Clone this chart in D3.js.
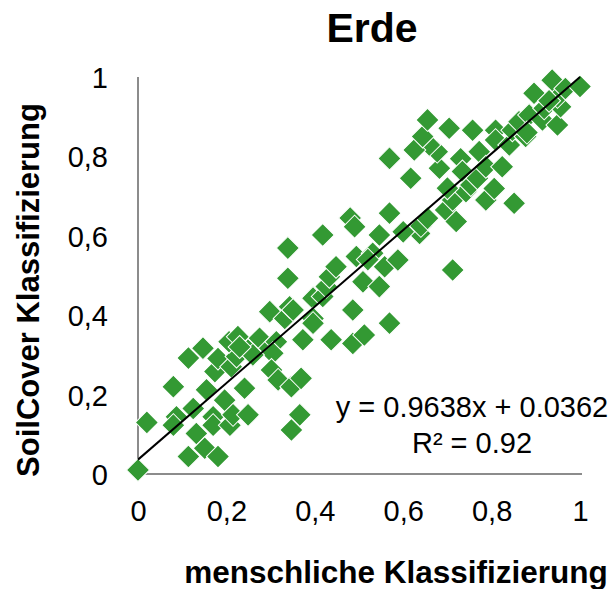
<!DOCTYPE html>
<html>
<head>
<meta charset="utf-8">
<script src="https://cdn.jsdelivr.net/npm/d3@7"></script>
<style>
    body { margin: 0; background: #fff; }
    svg text { font-family: "Liberation Sans", Arial, sans-serif; fill: #000; }
</style>
</head>
<body>
<div id="chart"></div>
<script>
// menschliche Klassifizierung (x) vs. SoilCover Klassifizierung (y)
var humanValues = [
    0.00, 0.02, 0.08, 0.087, 0.08, 0.114, 0.147, 0.125, 0.132, 0.114, 0.151, 0.181, 0.155, 0.170,
    0.170, 0.196, 0.208, 0.215, 0.249, 0.241, 0.174, 0.181, 0.211, 0.223, 0.206, 0.226, 0.249,
    0.275, 0.298, 0.313, 0.305, 0.302, 0.317, 0.347, 0.369, 0.366, 0.347, 0.298, 0.332, 0.343,
    0.339, 0.339, 0.351, 0.396, 0.418, 0.426, 0.433, 0.448, 0.396, 0.396, 0.373, 0.437, 0.486,
    0.512, 0.486, 0.569, 0.418, 0.480, 0.490, 0.494, 0.531, 0.558, 0.588, 0.509, 0.546, 0.546,
    0.569, 0.617, 0.569, 0.637, 0.640, 0.655, 0.696, 0.712, 0.720, 0.712, 0.682, 0.677, 0.659,
    0.625, 0.644, 0.655, 0.704, 0.730, 0.734, 0.742, 0.753, 0.768, 0.772, 0.787, 0.824, 0.787,
    0.806, 0.851, 0.757, 0.809, 0.809, 0.840, 0.847, 0.862, 0.877, 0.885, 0.915, 0.919, 0.949,
    0.956, 0.949, 0.896, 0.937, 0.967, 1.000, 0.260, 0.230, 0.520, 0.600, 0.700, 0.880, 0.930
];
var soilCoverValues = [
    0.01, 0.13, 0.22, 0.144, 0.123, 0.292, 0.317, 0.165, 0.102, 0.044, 0.065, 0.044, 0.212, 0.144,
    0.123, 0.186, 0.123, 0.149, 0.149, 0.216, 0.258, 0.291, 0.270, 0.296, 0.333, 0.346, 0.312,
    0.342, 0.317, 0.333, 0.304, 0.262, 0.237, 0.220, 0.241, 0.149, 0.111, 0.409, 0.392, 0.421,
    0.493, 0.569, 0.413, 0.443, 0.447, 0.472, 0.497, 0.522, 0.392, 0.380, 0.338, 0.338, 0.329,
    0.350, 0.413, 0.380, 0.602, 0.645, 0.623, 0.548, 0.556, 0.522, 0.539, 0.484, 0.472, 0.602,
    0.657, 0.745, 0.795, 0.606, 0.625, 0.644, 0.665, 0.690, 0.636, 0.514, 0.770, 0.812, 0.829,
    0.816, 0.850, 0.892, 0.871, 0.794, 0.762, 0.711, 0.728, 0.745, 0.812, 0.774, 0.774, 0.690,
    0.719, 0.682, 0.866, 0.866, 0.841, 0.829, 0.866, 0.887, 0.850, 0.904, 0.892, 0.921, 0.879,
    0.925, 0.950, 0.959, 0.992, 0.971, 0.976, 0.300, 0.320, 0.540, 0.610, 0.720, 0.860, 0.940
];
var xTicks = [0, 0.2, 0.4, 0.6, 0.8, 1];
var yTicks = [0, 0.2, 0.4, 0.6, 0.8, 1];
var trendSlope = 0.9638, trendIntercept = 0.0362;

var width = 615, height = 589;
var fmt = function(d){ return String(d).replace('.', ','); };

var svg = d3.select('#chart').append('svg')
        .attr('width', width)
        .attr('height', height);

var x = d3.scaleLinear().domain([0, 1]).range([138, 580]);
var y = d3.scaleLinear().domain([0, 1]).range([474, 77]);

// axis lines, Excel style: grey, no ticks
svg.append('line')
        .attr('x1', x(0)).attr('x2', x(0))
        .attr('y1', y(1)).attr('y2', y(0))
        .attr('stroke', '#8c8c8c').attr('stroke-width', 2);
svg.append('line')
        .attr('x1', x(0)).attr('x2', x(1) + 2)
        .attr('y1', y(0)).attr('y2', y(0))
        .attr('stroke', '#8c8c8c').attr('stroke-width', 2);

var xAxis = svg.append('g')
        .attr('transform', 'translate(0,' + (y(0) + 37) + ')')
        .call(d3.axisBottom(x).tickValues(xTicks).tickFormat(fmt).tickSize(0).tickPadding(0));
var yAxis = svg.append('g')
        .attr('transform', 'translate(' + (x(0) - 30) + ',0)')
        .call(d3.axisLeft(y).tickValues(yTicks).tickFormat(fmt).tickSize(0).tickPadding(0));
[xAxis, yAxis].forEach(function(ax){
    ax.select('.domain').remove();
    ax.selectAll('text')
            .style('font-family', '"Liberation Sans", Arial, sans-serif')
            .style('font-size', '29px')
            .attr('fill', '#000');
});
yAxis.selectAll('text').attr('dy', '0.36em');
xAxis.selectAll('text').attr('dy', '0.36em');

// points
var pts = humanValues.map(function(v, i){ return [v, soilCoverValues[i]]; });
var diamond = d3.symbol().type(d3.symbolSquare).size(265);
svg.append('g').selectAll('path')
        .data(pts)
        .enter().append('path')
        .attr('d', diamond)
        .attr('transform', function(d){ return 'translate(' + x(d[0]) + ',' + y(d[1]) + ')rotate(45)'; })
        .attr('fill', '#339933')
        .attr('stroke', '#ffffff')
        .attr('stroke-width', 1);

// trend line
svg.append('line')
        .attr('x1', x(0)).attr('y1', y(trendIntercept))
        .attr('x2', x(1)).attr('y2', y(trendSlope + trendIntercept))
        .attr('stroke', '#000').attr('stroke-width', 2);

// equation
svg.append('text')
        .attr('x', 472).attr('y', 417)
        .attr('text-anchor', 'middle')
        .style('font-size', '29px')
        .text('y = 0.9638x + 0.0362');
svg.append('text')
        .attr('x', 472).attr('y', 453)
        .attr('text-anchor', 'middle')
        .style('font-size', '29px')
        .text('R² = 0.92');

// labels
svg.append('text')
        .attr('x', 372).attr('y', 42)
        .attr('text-anchor', 'middle')
        .style('font-size', '41px').style('font-weight', 'bold')
        .text('Erde');
svg.append('text')
        .attr('x', 396).attr('y', 583)
        .attr('text-anchor', 'middle')
        .style('font-size', '31.5px').style('font-weight', 'bold')
        .text('menschliche Klassifizierung');
svg.append('text')
        .attr('text-anchor', 'middle')
        .attr('transform', 'translate(39,290)rotate(270)')
        .style('font-size', '31px').style('font-weight', 'bold')
        .text('SoilCover Klassifizierung');
</script>
</body>
</html>
